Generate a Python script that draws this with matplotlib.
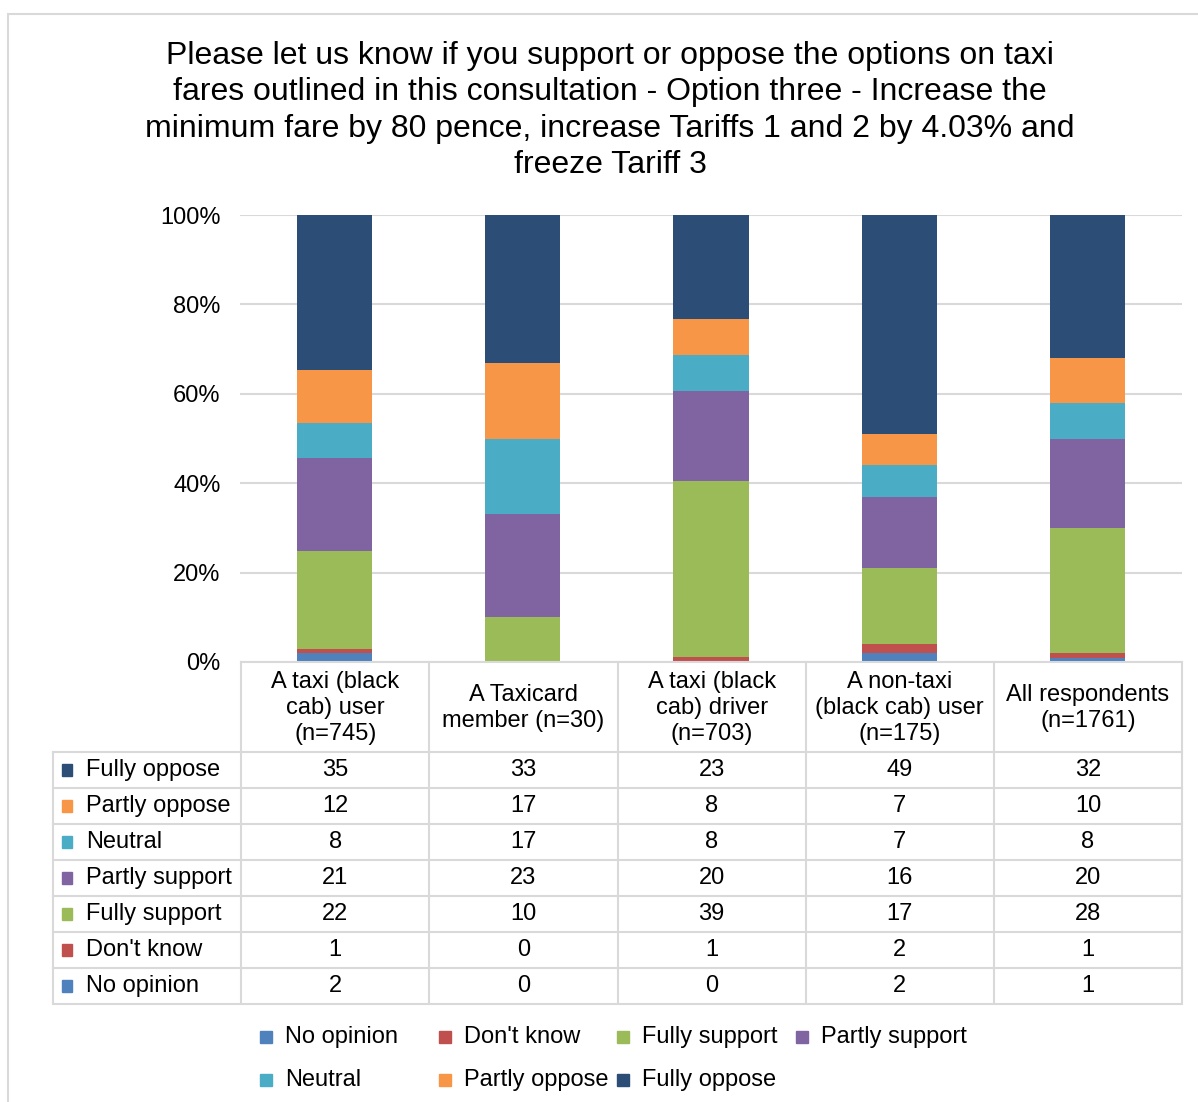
import matplotlib.pyplot as plt
from matplotlib.patches import Rectangle
import numpy as np

plt.rcParams['font.family'] = ['Liberation Sans', 'DejaVu Sans']

groups = ['A taxi (black\ncab) user\n(n=745)', 'A Taxicard\nmember (n=30)',
          'A taxi (black\ncab) driver\n(n=703)', 'A non-taxi\n(black cab) user\n(n=175)',
          'All respondents\n(n=1761)']
# stacking order, bottom to top
series = ['No opinion', "Don't know", 'Fully support', 'Partly support',
          'Neutral', 'Partly oppose', 'Fully oppose']
colors = ['#4F81BD', '#C0504D', '#9BBB59', '#8064A2', '#4BACC6', '#F79646', '#2C4D75']
no_opinion = [2, 0, 0, 2, 1]
dont_know = [1, 0, 1, 2, 1]
fully_support = [22, 10, 39, 17, 28]
partly_support = [21, 23, 20, 16, 20]
neutral = [8, 17, 8, 7, 8]
partly_oppose = [12, 17, 8, 7, 10]
fully_oppose = [35, 33, 23, 49, 32]

title = ('Please let us know if you support or oppose the options on taxi\n'
         'fares outlined in this consultation - Option three - Increase the\n'
         'minimum fare by 80 pence, increase Tariffs 1 and 2 by 4.03% and\n'
         'freeze Tariff 3')

vals = np.array([no_opinion, dont_know, fully_support, partly_support,
                 neutral, partly_oppose, fully_oppose], dtype=float)
pct = vals / vals.sum(axis=0) * 100

W, H = 1198, 1102
fig = plt.figure(figsize=(W / 100, H / 100), dpi=100)
grid_c = '#D9D9D9'
fs = 17

def fx(px): return px / W
def fy(py): return 1 - py / H

# outer frame
fig.patches.append(Rectangle((fx(8), fy(1110)), fx(1200) - fx(8), fy(14) - fy(1110),
                             transform=fig.transFigure, fill=False,
                             edgecolor=grid_c, lw=1.5))

fig.text(fx(610), fy(41), title, ha='center', va='top', fontsize=23,
         linespacing=1.28)

# bar chart
ax = fig.add_axes([fx(240), fy(662), fx(1182) - fx(240), fy(215) - fy(662)])
x = np.arange(len(groups)) + 0.5
bottom = np.zeros(len(groups))
for i in range(len(series)):
    ax.bar(x, pct[i], 0.4, bottom=bottom, color=colors[i], zorder=3)
    bottom += pct[i]
ax.set_xlim(0, 5)
ax.set_ylim(0, 100)
ax.set_yticks(range(0, 101, 20))
ax.set_yticklabels([f'{v}%' for v in range(0, 101, 20)], fontsize=fs)
ax.tick_params(axis='y', length=0, pad=14)
ax.set_xticks([])
ax.grid(axis='y', color=grid_c, lw=1.5, zorder=0)
for s in ax.spines.values():
    s.set_visible(False)

# data table
tb = fig.add_axes([fx(53), fy(1002), fx(1182) - fx(53), fy(662) - fy(1002)])
tb.set_xlim(-1, 5)
tb.set_ylim(340, 0)
tb.axis('off')
head_h, row_h = 90, 36
# horizontal lines
tb.plot([0, 5], [0, 0], color=grid_c, lw=1.5, clip_on=False)
for r in range(8):
    tb.plot([-1, 5], [head_h + r * row_h] * 2, color=grid_c, lw=1.5, clip_on=False)
# vertical lines
tb.plot([-1, -1], [head_h, 340], color=grid_c, lw=1.5, clip_on=False)
for c in range(6):
    tb.plot([c, c], [0, 340], color=grid_c, lw=1.5, clip_on=False)
for j, g in enumerate(groups):
    tb.text(j + 0.5, head_h / 2 + 1, g, ha='center', va='center', fontsize=fs,
            linespacing=1.25)
rows = list(range(len(series)))[::-1]
for r, i in enumerate(rows):
    yc = head_h + r * row_h + row_h / 2
    tb.add_patch(Rectangle((-0.953, yc - 6), 0.055, 12, color=colors[i],
                           clip_on=False))
    tb.text(-0.825, yc, series[i], ha='left', va='center', fontsize=fs)
    for j in range(len(groups)):
        tb.text(j + 0.5, yc, str(int(vals[i, j])), ha='center', va='center',
                fontsize=fs)

# legend
col_x = [260, 439, 617, 796]
for k, name in enumerate(series):
    cx = col_x[k % 4]
    cy = 1037 if k < 4 else 1080
    fig.patches.append(Rectangle((fx(cx), fy(cy + 6)), fx(12), 12 / H,
                                 transform=fig.transFigure, color=colors[k]))
    fig.text(fx(cx + 25), fy(cy), name, ha='left', va='center', fontsize=fs)

fig.savefig('out.png', dpi=100)
